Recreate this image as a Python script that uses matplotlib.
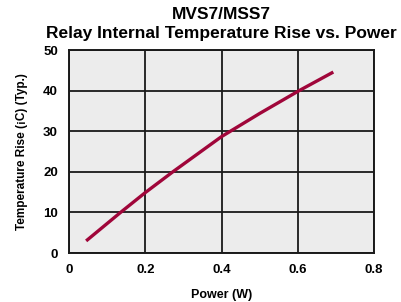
import matplotlib
matplotlib.use("Agg")
import matplotlib.pyplot as plt

# values
power_w = [0.045, 0.135, 0.2, 0.272, 0.4, 0.5, 0.603, 0.693]
temp_rise = [3.0, 10.0, 14.9, 20.0, 28.7, 34.4, 40.0, 44.6]

x_ticks = [0, 0.2, 0.4, 0.6, 0.8]
x_tick_labels = ["0", "0.2", "0.4", "0.6", "0.8"]
y_ticks = [0, 10, 20, 30, 40, 50]

plt.rcParams['font.family'] = ['Liberation Sans', 'DejaVu Sans']
plt.rcParams['font.weight'] = 'bold'

fig = plt.figure(figsize=(4.01, 3.02), dpi=100)
ax = fig.add_axes([0.172, 0.162, 0.761, 0.672])
ax.set_facecolor('#ececec')

ax.plot(power_w, temp_rise, color='#a0063a', lw=2.4, solid_capstyle='butt',
        solid_joinstyle='round', zorder=3)

ax.set_xlim(0, 0.8)
ax.set_ylim(0, 50)
ax.set_xticks(x_ticks)
ax.set_xticklabels(x_tick_labels)
ax.set_yticks(y_ticks)
ax.grid(True, color='#1a1a1a', lw=1.3)
ax.set_axisbelow(True)
for s in ax.spines.values():
    s.set_color('#1a1a1a')
    s.set_linewidth(1.4)
ax.tick_params(length=0, labelsize=9.5, pad=8)
for lab in ax.get_xticklabels() + ax.get_yticklabels():
    lab.set_fontweight('bold')

ax.set_xlabel("Power (W)", fontsize=9, fontweight='bold', labelpad=9)
ax.set_ylabel("Temperature Rise (¡C) (Typ.)", fontsize=8.5, fontweight='bold', labelpad=11)

fig.text(0.552, 0.953, "MVS7/MSS7", ha='center', va='center', fontsize=12.5, fontweight='bold')
fig.text(0.552, 0.888, "Relay Internal Temperature Rise vs. Power", ha='center', va='center',
         fontsize=12.5, fontweight='bold')

fig.savefig("out.png", dpi=100)
